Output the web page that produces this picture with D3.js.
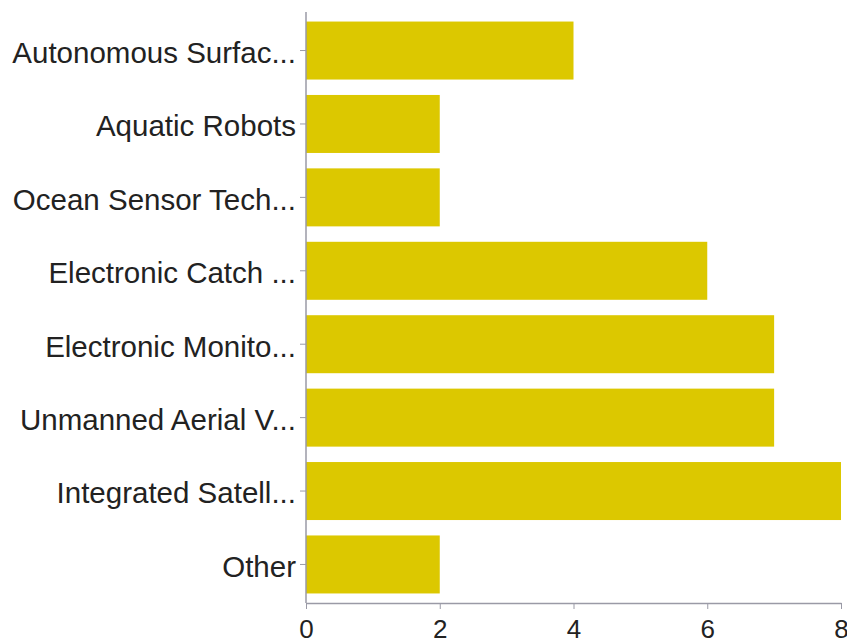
<!DOCTYPE html>
<html>
<head>
<meta charset="utf-8">
<script src="https://cdn.jsdelivr.net/npm/d3@7"></script>
<style>
  html, body { margin: 0; padding: 0; background: #fff; }
  svg { display: block; }
</style>
</head>
<body>
<svg id="chart" width="847" height="644"></svg>
<script>
const categories = [
  "Autonomous Surfac...",
  "Aquatic Robots",
  "Ocean Sensor Tech...",
  "Electronic Catch ...",
  "Electronic Monito...",
  "Unmanned Aerial V...",
  "Integrated Satell...",
  "Other"
];
const values = [4, 2, 2, 6, 7, 7, 8, 2];
const xTicks = [0, 2, 4, 6, 8];

(function () {
const svg = d3.select("#chart");
const mLeft = 306, mRight = 841, mTop = 12, mBottom = 603;

const x = d3.scaleLinear().domain([0, 8]).range([mLeft, mRight]);
const y = d3.scaleBand().domain(categories).range([mTop, mBottom])
  .paddingInner(0.21).paddingOuter(0.13);

const data = categories.map((c, i) => ({ c, v: values[i] }));

svg.append("g").selectAll("rect").data(data).join("rect")
  .attr("x", x(0))
  .attr("y", d => y(d.c))
  .attr("width", d => x(d.v) - x(0))
  .attr("height", y.bandwidth())
  .attr("fill", "#dcc800");

const axisColor = "#9a9aa6";
const font = "'Liberation Sans', Arial, Helvetica, sans-serif";

const yAxis = svg.append("g")
  .attr("transform", `translate(${mLeft},0)`)
  .call(d3.axisLeft(y).tickSize(6).tickPadding(4).tickSizeOuter(0));
yAxis.select(".domain").attr("stroke", axisColor).attr("stroke-width", 1.5)
  .attr("d", `M0,${mTop}V${mBottom}`);
yAxis.selectAll(".tick line").attr("stroke", axisColor);
yAxis.selectAll(".tick text")
  .attr("fill", "#222")
  .attr("font-family", font)
  .attr("font-size", "29.5px")
  .attr("dy", "0.42em");

const xAxis = svg.append("g")
  .attr("transform", `translate(0,${mBottom})`)
  .call(d3.axisBottom(x).tickValues(xTicks).tickFormat(d3.format("d"))
    .tickSize(6).tickPadding(11).tickSizeOuter(0));
xAxis.select(".domain").attr("stroke", axisColor).attr("stroke-width", 1.5);
xAxis.selectAll(".tick line").attr("stroke", axisColor);
xAxis.selectAll(".tick text")
  .attr("fill", "#222")
  .attr("font-family", font)
  .attr("font-size", "26px");
})();
</script>
</body>
</html>
